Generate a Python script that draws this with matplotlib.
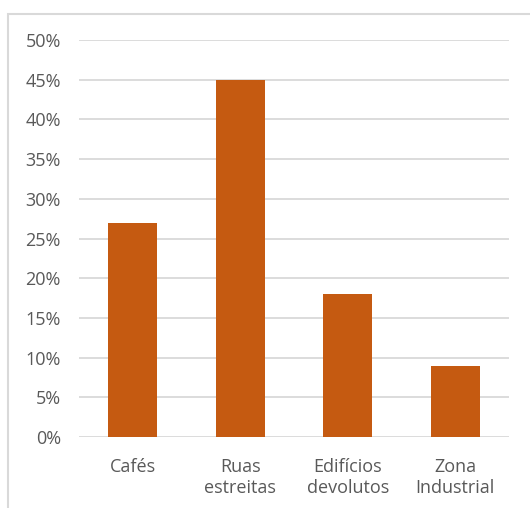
import matplotlib.pyplot as plt
from matplotlib.patches import Rectangle
from matplotlib.ticker import PercentFormatter
import numpy as np

categories = ['Cafés', 'Ruas\nestreitas', 'Edifícios\ndevolutos', 'Zona\nIndustrial']
values = [0.27, 0.45, 0.18, 0.09]
y_ticks = [0.0, 0.05, 0.10, 0.15, 0.20, 0.25, 0.30, 0.35, 0.40, 0.45, 0.50]

bar_color = '#C55A11'
grid_color = '#D9D9D9'
text_color = '#595959'

plt.rcParams['font.family'] = ['Open Sans', 'DejaVu Sans']

fig = plt.figure(figsize=(5.30, 5.08), dpi=100)
ax = fig.add_axes([79 / 530, 1 - 437 / 508, 430 / 530, 397 / 508])

# chart border (cut off at right and bottom)
fig.patches.append(Rectangle((8 / 530, -0.05), 1.0, 1 - 14 / 508 + 0.05,
                             transform=fig.transFigure, fill=False,
                             edgecolor=grid_color, linewidth=1.5))

x = np.arange(len(categories))
ax.bar(x, values, width=0.455, color=bar_color, zorder=3)

ax.set_xlim(-0.5, len(categories) - 0.5)
ax.set_ylim(0, 0.5)
ax.set_yticks(y_ticks)
ax.yaxis.set_major_formatter(PercentFormatter(1.0, decimals=0))
ax.set_xticks(x)
ax.set_xticklabels(categories, linespacing=1.2)

ax.grid(axis='y', color=grid_color, linewidth=1.3, zorder=0)
for s in ax.spines.values():
    s.set_visible(False)
ax.tick_params(axis='both', length=0, colors=text_color, labelsize=13)
ax.tick_params(axis='y', pad=13)
ax.tick_params(axis='x', pad=15)

fig.savefig('out.png', dpi=100)
